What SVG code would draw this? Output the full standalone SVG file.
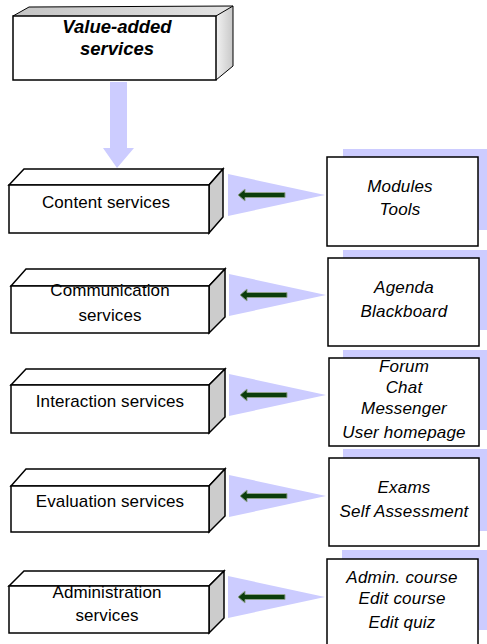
<svg xmlns="http://www.w3.org/2000/svg" width="487" height="644" viewBox="0 0 487 644">
  <defs>
    <linearGradient id="topGrad" x1="0" y1="0" x2="1" y2="0">
      <stop offset="0" stop-color="#c4c4c4"/>
      <stop offset="1" stop-color="#e4e4e4"/>
    </linearGradient>
    <linearGradient id="sideGrad" x1="0" y1="0" x2="1" y2="0">
      <stop offset="0" stop-color="#f2f2f2"/>
      <stop offset="1" stop-color="#c8c8c8"/>
    </linearGradient>
    <polygon id="wedge" points="0,-21 97,0 0,21"/>
    <polygon id="garrow" points="0,0 7,-6 7,-2.5 47,-2.5 47,2.5 7,2.5 7,6"/>
  </defs>
  <style>
    .face { fill: #ffffff; stroke: #000000; stroke-width: 1.5; stroke-linejoin: miter; }
    .side { fill: #cccccc; stroke: #000000; stroke-width: 1.5; }
    .lbl { font-family: "Liberation Sans", Arial, sans-serif; font-size: 17px; letter-spacing: 0.1px; fill: #000000; text-anchor: middle; }
    .item { font-family: "Liberation Sans", Arial, sans-serif; font-size: 17px; letter-spacing: 0.2px; font-style: italic; fill: #000000; text-anchor: middle; }
    .title { font-family: "Liberation Sans", Arial, sans-serif; font-size: 18.5px; font-style: italic; font-weight: bold; fill: #000000; text-anchor: middle; }
    .shadow { fill: #ccccff; }
    .wedge { fill: #ccccff; }
    .garrow { fill: #0b3d0b; stroke: #8fa08f; stroke-width: 1; }
    .down { fill: #ccccff; }
  </style>

  <!-- Top node -->
  <g id="value-added">
    <polygon points="13,16 29,7 233,6 216,16" fill="url(#topGrad)" stroke="none"/>
    <polygon points="216,16 233,6 233,66 216,80" fill="url(#sideGrad)" stroke="none"/>
    <polyline points="13,16 29,7 233,6" fill="none" stroke="#000" stroke-width="1"/>
    <polyline points="216,16 233,6 233,66 216,80" fill="none" stroke="#000" stroke-width="1"/>
    <rect x="13" y="16" width="203" height="64" fill="#ffffff" stroke="#000" stroke-width="1.5"/>
    <text class="title" x="117" y="33">Value-added</text>
    <text class="title" x="117" y="55">services</text>
  </g>

  <!-- Left 3D nodes -->
  <g id="content-services">
    <polygon class="face" points="9,185 24,169 223,169 209,185"/>
    <polygon class="side" points="209,185 223,169 223,217 209,233"/>
    <rect class="face" x="9" y="185" width="200" height="48"/>
    <text class="lbl" x="106" y="208">Content services</text>
  </g>
  <g id="communication-services">
    <polygon class="face" points="11,286 26,269 225,269 209,286"/>
    <polygon class="side" points="209,286 225,269 225,317 209,333"/>
    <rect class="face" x="11" y="286" width="198" height="47"/>
    <text class="lbl" x="110" y="296">Communication</text>
    <text class="lbl" x="110" y="321">services</text>
  </g>
  <g id="interaction-services">
    <polygon class="face" points="11,385 26,369 225,369 209,385"/>
    <polygon class="side" points="209,385 225,369 225,417 209,433"/>
    <rect class="face" x="11" y="385" width="198" height="48"/>
    <text class="lbl" x="110" y="407">Interaction services</text>
  </g>
  <g id="evaluation-services">
    <polygon class="face" points="11,486 26,469 225,469 209,486"/>
    <polygon class="side" points="209,486 225,469 225,516 209,532"/>
    <rect class="face" x="11" y="486" width="198" height="46"/>
    <text class="lbl" x="110" y="507">Evaluation services</text>
  </g>
  <g id="administration-services">
    <polygon class="face" points="9,586 24,571 224,571 209,586"/>
    <polygon class="side" points="209,586 224,571 224,618 209,633"/>
    <rect class="face" x="9" y="586" width="200" height="47"/>
    <text class="lbl" x="107" y="598">Administration</text>
    <text class="lbl" x="107" y="621">services</text>
  </g>

  <!-- Right nodes -->
  <g id="content-items">
    <rect class="shadow" x="343" y="149" width="144" height="81"/>
    <rect class="face" x="327" y="157" width="151" height="89"/>
    <text class="item" x="400" y="192">Modules</text>
    <text class="item" x="400" y="215">Tools</text>
  </g>
  <g id="communication-items">
    <rect class="shadow" x="343" y="250" width="144" height="80"/>
    <rect class="face" x="328" y="258" width="151" height="88"/>
    <text class="item" x="404" y="293">Agenda</text>
    <text class="item" x="404" y="317">Blackboard</text>
  </g>
  <g id="interaction-items">
    <rect class="shadow" x="343" y="350" width="144" height="80"/>
    <rect class="face" x="329" y="358" width="150" height="88"/>
    <text class="item" x="404" y="372">Forum</text>
    <text class="item" x="404" y="393">Chat</text>
    <text class="item" x="404" y="414">Messenger</text>
    <text class="item" x="404" y="438">User homepage</text>
  </g>
  <g id="evaluation-items">
    <rect class="shadow" x="343" y="449" width="144" height="82"/>
    <rect class="face" x="329" y="458" width="150" height="88"/>
    <text class="item" x="404" y="493">Exams</text>
    <text class="item" x="404" y="517">Self Assessment</text>
  </g>
  <g id="administration-items">
    <rect class="shadow" x="342" y="550" width="145" height="80"/>
    <rect class="face" x="327" y="559" width="151" height="92"/>
    <text class="item" x="402" y="583">Admin. course</text>
    <text class="item" x="402" y="604">Edit course</text>
    <text class="item" x="402" y="628">Edit quiz</text>
  </g>

  <!-- Connectors -->
  <g id="connectors">
    <path class="down" d="M110,82 H127 V148 H134 L117,168 L103,148 H110 Z"/>
    <use href="#wedge" class="wedge" transform="translate(228,195)"/>
    <use href="#wedge" class="wedge" transform="translate(229,295)"/>
    <use href="#wedge" class="wedge" transform="translate(229,395)"/>
    <use href="#wedge" class="wedge" transform="translate(229,496)"/>
    <use href="#wedge" class="wedge" transform="translate(228,597)"/>
    <use href="#garrow" class="garrow" transform="translate(238,195)"/>
    <use href="#garrow" class="garrow" transform="translate(240,295)"/>
    <use href="#garrow" class="garrow" transform="translate(240,395)"/>
    <use href="#garrow" class="garrow" transform="translate(240,496)"/>
    <use href="#garrow" class="garrow" transform="translate(238,597)"/>
  </g>
</svg>
